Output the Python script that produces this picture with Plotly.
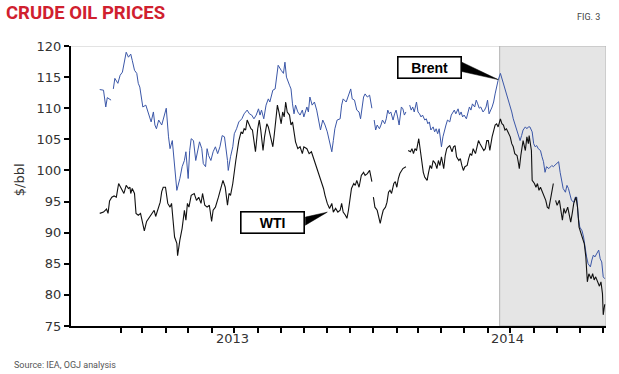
import pandas as pd
import plotly.graph_objects as go

# ---------------- data (days since 2013-01-01, $/bbl); None = gap ----------------
BASE_DATE = "2013-01-01"

BRENT = [(3,113.0),(8,112.9),(11,110.2),(13,111.7),(18,111.3),(20,None),(21,113.1),(23,114.8),(27,114.0),(30,115.3),
(33,115.8),(35,116.9),(38,119.0),(41,118.2),(44,118.7),(46,117.7),(49,116.1),(52,115.6),(54,114.0),(56,113.4),
(58,111.8),(60,110.2),(64,110.5),(67,109.4),(71,107.8),(74,109.4),(76,107.3),(78,106.7),(81,108.1),(85,107.3),
(88,108.9),(91,110.0),(94,105.4),(96,103.5),(99,104.8),(101,101.6),(103,99.5),(105,96.8),(109,98.7),(112,100.6),
(115,101.6),(117,103.0),(120,98.7),(122,103.2),(124,105.1),(127,104.8),(130,101.6),(132,102.7),(135,104.6),(138,103.5),
(140,101.1),(143,100.6),(145,103.5),(147,102.4),(150,101.6),(153,103.0),(156,103.8),(159,102.7),(162,103.8),(165,105.6),
(168,105.4),(172,101.6),(173,100.0),(176,102.2),(179,103.8),(181,105.9),(184,106.7),(187,107.8),(191,108.3),(194,109.1),
(198,109.7),(201,109.1),(204,108.9),(207,108.3),(210,108.9),(213,109.9),(215,108.9),(217,109.7),(220,108.3),(223,110.5),
(226,111.5),(228,111.0),(232,112.9),(235,113.1),(237,115.3),(239,116.9),(243,116.1),(246,115.6),(248,117.4),(250,115.0),
(254,113.7),(256,113.1),(258,110.7),(260,109.1),(262,110.5),(265,109.4),(268,108.9),(271,109.7),(273,108.6),(277,110.2),
(279,109.4),(281,111.8),(284,110.5),(287,111.0),(290,109.7),(292,108.6),(295,106.5),(298,108.1),(301,107.3),(304,106.2),
(307,104.8),(310,103.0),(312,104.8),(314,106.7),(317,108.1),(321,108.3),(323,110.5),(325,111.5),(329,111.0),(332,112.1),
(335,113.1),(337,111.5),(340,111.3),(343,109.7),(346,109.4),(348,108.3),(352,111.8),(354,112.3),(357,111.8),(360,112.1),
(363,110.0),(364,None),(366,108.1),(368,106.5),(370,107.3),(373,106.7),(375,107.3),(377,108.1),(380,107.5),(382,108.3),
(384,109.7),(386,109.1),(388,109.4),(391,108.1),(393,109.1),(395,109.7),(397,108.6),(399,107.3),(402,110.2),(404,109.9),
(406,108.9),(408,109.4),(410,None),(413,110.5),(415,109.7),(417,110.2),(419,109.4),(422,111.0),(424,109.4),(426,109.1),
(428,108.6),(430,108.9),(433,108.1),(435,108.3),(437,107.5),(439,107.8),(441,106.5),(444,107.0),(446,106.2),(448,106.7),
(450,105.9),(452,106.7),(455,103.8),(457,105.4),(459,106.5),(461,107.3),(463,108.1),(466,107.8),(468,108.9),(470,109.4),
(472,109.7),(474,109.1),(477,109.9),(479,108.9),(481,109.4),(483,108.6),(485,108.9),(488,108.3),(490,109.4),(492,110.2),
(494,109.7),(496,110.7),(499,110.2),(501,111.3),(503,110.7),(505,110.0),(507,110.2),(510,109.4),(512,109.7),(514,110.2),
(516,111.3),(518,109.1),(522,110.2),(524,111.0),(526,112.3),(528,113.7),(530,114.5),(533,115.6),(535,114.8),(537,114.0),
(539,113.1),(541,112.1),(544,111.3),(546,110.2),(548,109.4),(550,108.3),(552,107.5),(555,106.5),(557,105.6),(559,104.8),
(561,105.6),(563,106.5),(566,107.0),(568,106.7),(570,107.0),(572,107.0),(575,106.2),(577,104.3),(579,103.8),(581,104.0),
(583,103.5),(586,103.2),(588,102.2),(590,101.4),(592,99.7),(594,100.6),(597,100.3),(599,100.6),(601,100.8),(603,100.6),
(605,100.8),(608,101.1),(610,101.4),(612,99.7),(614,98.2),(616,97.1),(619,96.5),(621,97.6),(623,97.1),(625,96.3),
(627,95.2),(630,94.9),(632,95.7),(634,95.7),(636,92.5),(638,90.9),(641,90.3),(643,89.3),(645,87.4),(647,86.1),
(649,85.0),(652,84.5),(654,85.6),(656,86.4),(658,86.1),(660,86.6),(663,87.2),(665,85.8),(667,85.3),(669,82.9),(671,82.6)]

WTI = [(3,93.1),(8,93.3),(12,93.8),(14,93.1),(16,95.1),(19,95.7),(22,95.9),(25,95.7),(28,97.9),(32,97.1),
(35,96.3),(38,97.6),(41,97.1),(43,97.3),(44,96.3),(46,97.1),(49,96.3),(51,93.1),(54,92.8),(57,93.1),
(60,91.0),(62,90.3),(65,91.8),(68,92.3),(72,93.1),(75,93.6),(77,92.6),(79,93.4),(83,94.9),(85,96.6),
(87,97.3),(90,97.3),(93,94.7),(96,94.1),(98,94.7),(100,92.0),(102,89.3),(105,88.3),(106,86.3),(109,88.8),
(112,90.7),(115,93.6),(117,92.0),(119,94.7),(121,94.1),(124,96.0),(128,96.3),(131,95.2),(134,95.7),(137,94.7),
(139,96.3),(142,94.4),(145,94.1),(148,94.4),(151,91.8),(153,93.6),(156,94.1),(160,95.7),(163,97.3),(166,98.4),
(169,97.3),(172,94.4),(174,96.3),(176,96.0),(179,97.9),(181,100.3),(183,101.6),(185,103.2),(187,104.8),(190,106.2),
(192,105.9),(194,106.7),(196,106.5),(198,108.1),(201,107.3),(203,106.7),(205,106.5),(207,105.1),(209,103.0),(212,106.7),
(214,108.1),(216,106.5),(219,103.2),(221,105.4),(224,107.5),(226,107.0),(229,105.1),(232,103.8),(234,105.9),(236,107.8),
(238,110.5),(240,109.4),(243,107.5),(245,109.4),(247,108.6),(249,111.0),(251,109.4),(254,108.9),(256,107.3),(258,107.8),
(260,106.2),(262,104.6),(265,103.5),(268,103.8),(271,102.7),(273,103.8),(277,103.5),(280,102.7),(283,103.0),(286,101.9),
(289,100.6),(292,99.5),(295,98.4),(297,97.9),(299,97.1),(301,96.0),(304,94.7),(307,93.9),(310,94.7),(312,93.3),
(315,93.9),(318,93.3),(321,93.6),(323,94.7),(325,93.3),(328,92.8),(330,92.3),(332,93.6),(334,95.2),(336,97.1),
(339,97.9),(341,97.6),(343,98.4),(346,97.3),(349,99.2),(352,99.7),(354,99.2),(357,99.5),(360,100.0),(363,98.2),
(364,None),(365,95.7),(367,94.1),(370,93.6),(372,92.3),(374,91.5),(376,92.6),(378,93.6),(381,94.1),(383,94.9),
(385,96.5),(387,96.8),(389,96.3),(392,97.9),(394,98.2),(396,97.3),(398,98.7),(400,99.5),(404,100.3),(408,100.6),
(410,None),(411,103.2),(414,103.0),(416,103.5),(418,102.7),(420,103.5),(422,103.2),(425,105.1),(427,103.2),(429,101.6),
(431,99.7),(433,98.9),(436,98.4),(438,99.7),(440,100.8),(442,100.3),(444,101.6),(447,101.1),(449,100.3),(451,101.6),
(453,100.8),(455,102.2),(458,100.3),(460,102.4),(462,103.5),(464,103.8),(466,104.0),(469,103.0),(471,103.8),(473,104.0),
(475,102.2),(478,101.6),(480,101.9),(482,100.8),(484,100.0),(486,100.6),(489,100.8),(491,101.9),(493,102.7),(495,102.4),
(497,103.5),(500,102.7),(502,103.8),(504,104.8),(506,104.3),(508,103.8),(511,103.2),(513,103.5),(515,104.8),(517,104.8),
(519,103.2),(522,105.4),(524,106.5),(526,107.3),(528,107.5),(530,107.0),(533,108.3),(535,107.5),(537,107.3),(539,106.5),
(541,106.7),(544,105.9),(546,105.4),(548,104.3),(550,103.8),(552,102.7),(555,102.4),(557,101.1),(558,100.3),(560,102.4),
(562,103.8),(563,104.8),(566,103.2),(568,105.4),(570,104.3),(571,105.6),(574,103.2),(575,98.4),(578,97.9),(580,97.3),
(582,97.9),(584,96.8),(586,97.3),(589,96.3),(591,95.7),(593,95.2),(595,94.1),(597,93.9),(599,95.2),(601,96.3),
(603,97.9),(604,None),(606,95.2),(608,94.4),(611,95.2),(613,93.3),(615,92.0),(617,93.9),(619,93.1),(622,94.1),
(624,92.8),(626,91.7),(628,93.1),(630,94.7),(633,95.7),(635,94.1),(637,90.9),(639,90.1),(641,89.3),(644,88.2),
(646,86.1),(648,82.1),(650,83.4),(653,82.6),(655,83.4),(657,82.4),(659,82.9),(661,82.4),(664,81.4),(666,82.1),
(668,80.2),(669,76.8),(671,78.5)]

Y_TICKS = [75, 80, 85, 90, 95, 100, 105, 110, 115, 120]
YEAR_LABELS = ["2013", "2014"]
YEAR_LABEL_DATES = ["2013-06-28", "2014-06-27"]
MONTH_TICKS = [d.strftime("%Y-%m-%d") for d in pd.date_range("2013-02-01", "2014-11-01", freq="MS")]
YEAR_TICK = "2014-01-01"
X_START, X_END = "2012-11-27", "2014-11-04 16:00"
SHADE_START = "2014-06-17"


def to_xy(obs):
    base = pd.Timestamp(BASE_DATE)
    xs = [base + pd.Timedelta(days=d) for d, _ in obs]
    ys = [v for _, v in obs]
    return xs, ys


bx, by = to_xy(BRENT)
wx, wy = to_xy(WTI)

fig = go.Figure()
fig.add_trace(go.Scatter(x=bx, y=by, mode="lines", name="Brent", connectgaps=False,
                         line=dict(color="#3b57a8", width=1), hoverinfo="skip", showlegend=False))
fig.add_trace(go.Scatter(x=wx, y=wy, mode="lines", name="WTI", connectgaps=False,
                         line=dict(color="#111111", width=1.1), hoverinfo="skip", showlegend=False))

# shaded period
fig.add_shape(type="rect", xref="x", yref="y", x0=SHADE_START, x1=X_END, y0=75, y1=120,
              fillcolor="#e5e5e5", line=dict(color="#b4b4b4", width=1), layer="below")
# top frame line
fig.add_shape(type="line", xref="paper", yref="y", x0=0, x1=1, y0=120, y1=120,
              line=dict(color="#c8c8c8", width=1), layer="below")

# callout wedges
fig.add_shape(type="path", xref="x", yref="y",
              path="M 2014-04-28,117.4 L 2014-06-15,114.6 L 2014-04-28,115.9 Z",
              fillcolor="black", line=dict(color="black", width=0.5))
fig.add_shape(type="path", xref="x", yref="y",
              path="M 2013-10-03,92.5 L 2013-11-01,93.3 L 2013-10-03,91.2 Z",
              fillcolor="black", line=dict(color="black", width=0.5))

box_font = dict(family="Liberation Sans, Arial, sans-serif", size=14, color="black")
fig.add_annotation(x="2014-03-16", y=116.6, xref="x", yref="y", text="<b>Brent</b>", showarrow=False,
                   bgcolor="white", bordercolor="black", borderwidth=1.6, borderpad=0,
                   width=62, height=20, font=box_font)
fig.add_annotation(x="2013-08-21", y=91.6, xref="x", yref="y", text="<b>WTI</b>", showarrow=False,
                   bgcolor="white", bordercolor="black", borderwidth=1.6, borderpad=0,
                   width=62, height=20, font=box_font)

label_font = dict(family="DejaVu Sans, sans-serif", size=13, color="#333333")
for lab, d in zip(YEAR_LABELS, YEAR_LABEL_DATES):
    fig.add_annotation(x=d, y=-0.046, xref="x", yref="paper", text=lab, showarrow=False,
                       xanchor="center", yanchor="middle", font=label_font)

fig.add_annotation(x=-0.097, y=0.521, xref="paper", yref="paper", text="$/bbl", textangle=-90,
                   showarrow=False, xanchor="center", yanchor="middle", font=label_font)

narrow = "Roboto, Liberation Sans, sans-serif"
fig.add_annotation(x=-0.1252, y=1.117, xref="paper", yref="paper", text="<b>CRUDE OIL PRICES</b>",
                   showarrow=False, xanchor="left", yanchor="middle",
                   font=dict(family=narrow, size=18.5, color="#d0202e"))
fig.add_annotation(x=0.992, y=1.105, xref="paper", yref="paper", text="FIG. 3",
                   showarrow=False, xanchor="right", yanchor="middle",
                   font=dict(family=narrow, size=9, color="#444444"))
fig.add_annotation(x=-0.1103, y=-0.139, xref="paper", yref="paper", text="Source: IEA, OGJ analysis",
                   showarrow=False, xanchor="left", yanchor="middle",
                   font=dict(family=narrow, size=9, color="#555555"))

fig.update_layout(
    width=619, height=374,
    margin=dict(l=71, r=13, t=46, b=48),
    paper_bgcolor="white", plot_bgcolor="white",
    showlegend=False,
    xaxis=dict(type="date", range=[X_START, X_END], showgrid=False, zeroline=False,
               showline=True, linecolor="black", linewidth=1.5,
               tickmode="array", tickvals=[YEAR_TICK], ticktext=[""],
               ticks="outside", ticklen=8, tickwidth=1.5, tickcolor="black",
               minor=dict(tickmode="array", tickvals=MONTH_TICKS, ticks="outside",
                          ticklen=5, tickwidth=1.5, tickcolor="black", showgrid=False)),
    yaxis=dict(range=[75, 120], tickmode="array", tickvals=Y_TICKS,
               ticks="outside", ticklen=5, tickwidth=1.5, tickcolor="black",
               showline=True, linecolor="black", linewidth=2,
               showgrid=False, zeroline=False, tickfont=label_font),
)

fig.write_html("out.html", config={"displayModeBar": False},
               post_script="document.body.style.margin='0px';")
